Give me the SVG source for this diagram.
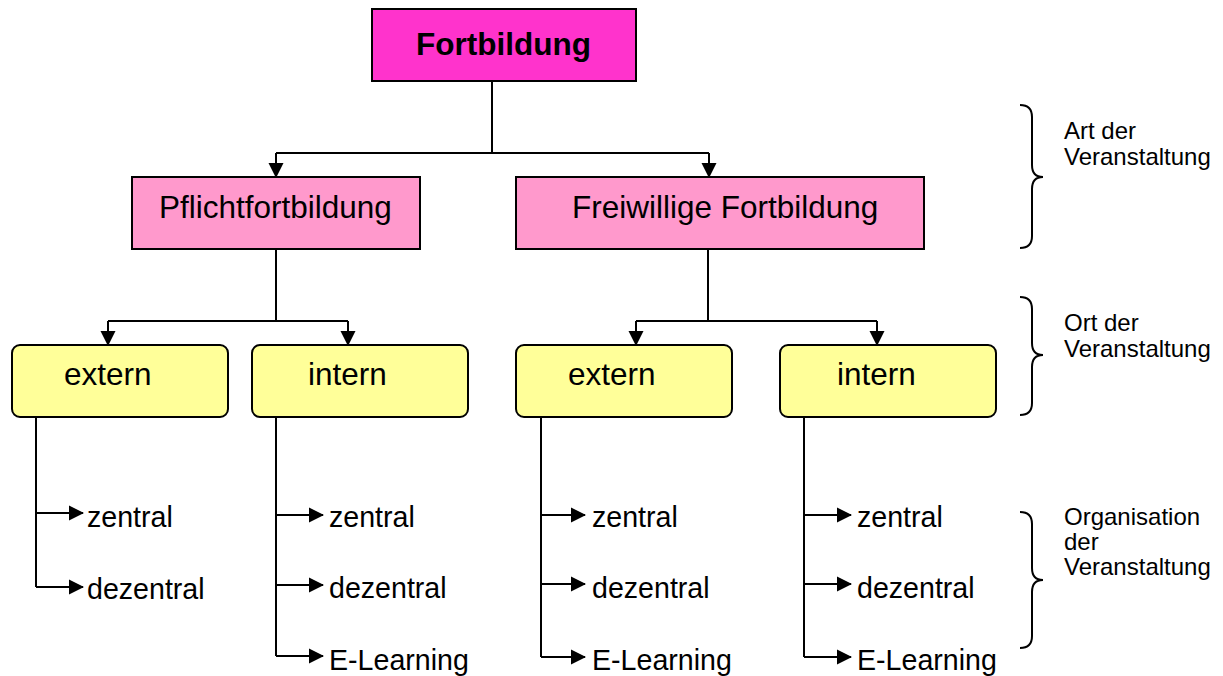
<svg xmlns="http://www.w3.org/2000/svg" width="1223" height="676" viewBox="0 0 1223 676">
<style>
  .box { stroke: #000; stroke-width: 2; }
  .top { fill: #FF33CC; }
  .mid { fill: #FF99CC; }
  .loc { fill: #FFFF99; }
  .t { font-family: "Liberation Sans", Arial, sans-serif; fill: #000; }
  .big { font-size: 31.5px; }
  .bold { font-weight: bold; }
  .sub { font-size: 28.6px; }
  .side { font-size: 24px; }
  .ln { fill: none; stroke: #000; stroke-width: 2; }
  .arr { fill: none; stroke: #000; stroke-width: 2; marker-end: url(#ah); }
  .brace { fill: none; stroke: #000; stroke-width: 2; }
</style>
<defs>
  <marker id="ah" markerUnits="userSpaceOnUse" viewBox="0 0 15 15" markerWidth="15" markerHeight="15" refX="14" refY="7.5" orient="auto" overflow="visible">
    <path d="M0,0 L15,7.5 L0,15 Z" fill="#000"/>
  </marker>
</defs>
<rect width="1223" height="676" fill="#fff"/>

<g id="connectors">
  <path class="ln" d="M492,81 V153 M276,153 H709"/>
  <path class="arr" d="M276,153 V177"/>
  <path class="arr" d="M709,153 V177"/>
  <path class="ln" d="M276,249 V321 M108,321 H348"/>
  <path class="arr" d="M108,321 V345"/>
  <path class="arr" d="M348,321 V345"/>
  <path class="ln" d="M708,249 V321 M636,321 H877"/>
  <path class="arr" d="M636,321 V345"/>
  <path class="arr" d="M877,321 V345"/>
  <path class="ln" d="M36,417 V587"/>
  <path class="arr" d="M36,513 H83"/>
  <path class="arr" d="M36,587 H83"/>
  <path class="ln" d="M276,417 V656"/>
  <path class="arr" d="M276,515 H323"/>
  <path class="arr" d="M276,585 H323"/>
  <path class="arr" d="M276,656 H323"/>
  <path class="ln" d="M541,417 V657"/>
  <path class="arr" d="M541,515 H585"/>
  <path class="arr" d="M541,584 H585"/>
  <path class="arr" d="M541,657 H585"/>
  <path class="ln" d="M804,417 V657"/>
  <path class="arr" d="M804,515 H851"/>
  <path class="arr" d="M804,584 H851"/>
  <path class="arr" d="M804,657 H851"/>
</g>

<g id="n-fortbildung">
  <rect class="box top" x="372" y="9" width="264" height="72"/>
  <text class="t big bold" x="416" y="55">Fortbildung</text>
</g>
<g id="n-pflicht">
  <rect class="box mid" x="132" y="177" width="288" height="72"/>
  <text class="t big" x="159" y="218">Pflichtfortbildung</text>
</g>
<g id="n-freiwillig">
  <rect class="box mid" x="516" y="177" width="408" height="72"/>
  <text class="t big" x="572" y="218">Freiwillige Fortbildung</text>
</g>
<g id="n-extern1">
  <rect class="box loc" x="12" y="345" width="216" height="72" rx="8"/>
  <text class="t big" x="64" y="385">extern</text>
</g>
<g id="n-intern1">
  <rect class="box loc" x="252" y="345" width="216" height="72" rx="8"/>
  <text class="t big" x="308" y="385">intern</text>
</g>
<g id="n-extern2">
  <rect class="box loc" x="516" y="345" width="216" height="72" rx="8"/>
  <text class="t big" x="568" y="385">extern</text>
</g>
<g id="n-intern2">
  <rect class="box loc" x="780" y="345" width="216" height="72" rx="8"/>
  <text class="t big" x="837" y="385">intern</text>
</g>

<g id="n-leaves1">
  <text class="t sub" x="87" y="527">zentral</text>
  <text class="t sub" x="87" y="599">dezentral</text>
</g>
<g id="n-leaves2">
  <text class="t sub" x="329" y="527">zentral</text>
  <text class="t sub" x="329" y="598">dezentral</text>
  <text class="t sub" x="329" y="670">E-Learning</text>
</g>
<g id="n-leaves3">
  <text class="t sub" x="592" y="527">zentral</text>
  <text class="t sub" x="592" y="598">dezentral</text>
  <text class="t sub" x="592" y="670">E-Learning</text>
</g>
<g id="n-leaves4">
  <text class="t sub" x="857" y="527">zentral</text>
  <text class="t sub" x="857" y="598">dezentral</text>
  <text class="t sub" x="857" y="670">E-Learning</text>
</g>

<g id="legend">
  <path class="brace" d="M1020,105 Q1032,105 1032,117 L1032,165 Q1032,177 1043,177 Q1032,177 1032,189 L1032,236 Q1032,248 1020,248"/>
  <text class="t side" x="1064" y="139">Art der</text>
  <text class="t side" x="1064" y="165">Veranstaltung</text>
  <path class="brace" d="M1020,297 Q1032,297 1032,309 L1032,343 Q1032,355 1043,355 Q1032,355 1032,367 L1032,403 Q1032,415 1020,415"/>
  <text class="t side" x="1064" y="331">Ort der</text>
  <text class="t side" x="1064" y="357">Veranstaltung</text>
  <path class="brace" d="M1020,512 Q1032,512 1032,524 L1032,568 Q1032,580 1043,580 Q1032,580 1032,592 L1032,636 Q1032,648 1020,648"/>
  <text class="t side" x="1064" y="525">Organisation</text>
  <text class="t side" x="1064" y="550">der</text>
  <text class="t side" x="1064" y="575">Veranstaltung</text>
</g>
</svg>
